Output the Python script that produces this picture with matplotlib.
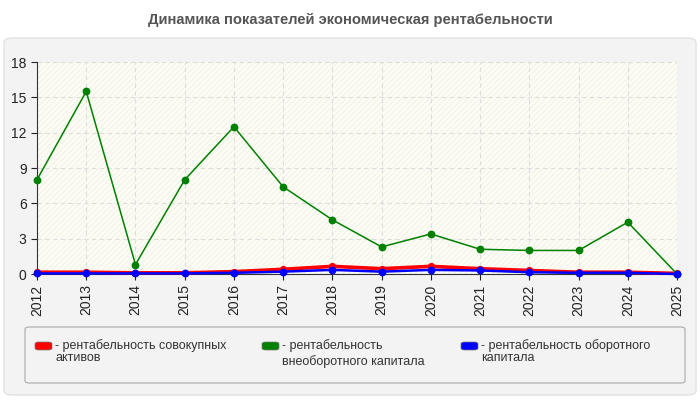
import matplotlib.pyplot as plt
from matplotlib.patches import FancyBboxPatch, Rectangle

plt.rcParams['font.family'] = ['Liberation Sans', 'DejaVu Sans']
plt.rcParams['hatch.linewidth'] = 0.6

years = ['2012', '2013', '2014', '2015', '2016', '2017', '2018',
         '2019', '2020', '2021', '2022', '2023', '2024', '2025']
total_assets = [0.15, 0.15, 0.1, 0.1, 0.2, 0.4, 0.65, 0.45, 0.65, 0.45, 0.3, 0.15, 0.15, 0.05]
noncurrent = [8.0, 15.5, 0.8, 8.0, 12.5, 7.4, 4.6, 2.3, 3.4, 2.1, 2.0, 2.0, 4.4, 0.0]
current = [0.05, 0.05, 0.05, 0.05, 0.1, 0.2, 0.35, 0.2, 0.35, 0.3, 0.15, 0.1, 0.1, 0.0]
labels = ['- рентабельность совокупных\nактивов',
          '- рентабельность\nвнеоборотного капитала',
          '- рентабельность оборотного\nкапитала']
colors = ['#ff0000', '#008000', '#0000ff']

fig = plt.figure(figsize=(7, 4), dpi=100)
fig.patch.set_facecolor('white')

# outer panel
fig.patches.append(FancyBboxPatch((4 / 700, 5 / 400), 692 / 700, 357 / 400,
                                  boxstyle='round,pad=0,rounding_size=0.012',
                                  transform=fig.transFigure, facecolor='#f3f3f3',
                                  edgecolor='#e2e2e2', linewidth=1, zorder=-2))
fig.text(0.5, 1 - 20 / 400, 'Динамика показателей экономическая рентабельности',
         ha='center', va='center', fontsize=10.6, fontweight='bold', color='#555555')

ax = fig.add_axes([37 / 700, 126 / 400, 640 / 700, 212 / 400])
ax.set_zorder(2)
ax.set_facecolor('#fdfdf4')
ax.add_patch(Rectangle((0, 0), 1, 1, transform=ax.transAxes, facecolor='none',
                       edgecolor='#efefea', hatch='//////', linewidth=0, zorder=0))
x = list(range(len(years)))
ax.plot(x, total_assets, color=colors[0], lw=2.6, marker='o', ms=4.2, zorder=3, clip_on=False)
ax.plot(x, noncurrent, color=colors[1], lw=1.1, marker='o', ms=4.6, zorder=4, clip_on=False)
ax.plot(x, current, color=colors[2], lw=1.8, marker='o', ms=4.6, zorder=5, clip_on=False)

ax.set_xlim(0, len(years) - 1)
ax.set_ylim(0, 18)
ax.set_yticks(range(0, 19, 3))
ax.set_xticks(x)
ax.set_xticklabels(years, rotation=90)
ax.tick_params(labelsize=10, colors='#222222', length=4)
ax.grid(True, color='#dddddd', linestyle=(0, (4, 3)), lw=0.8)
for side in ['top', 'right']:
    ax.spines[side].set_visible(False)
for side in ['left', 'bottom']:
    ax.spines[side].set_color('#333333')
ax.set_axisbelow(True)

# legend box
fig.patches.append(FancyBboxPatch((25 / 700, 17 / 400), 660 / 700, 56 / 400,
                                  boxstyle='round,pad=0,rounding_size=0.006',
                                  transform=fig.transFigure, facecolor='#f3f3f3',
                                  edgecolor='#aaaaaa', linewidth=0.8, zorder=1))
xs = [35, 262, 461]
for i, (xi, lab, c) in enumerate(zip(xs, labels, colors)):
    fig.patches.append(FancyBboxPatch((xi / 700, 1 - 350 / 400), 17 / 700, 8 / 400,
                                      boxstyle='round,pad=0,rounding_size=0.005',
                                      transform=fig.transFigure, facecolor=c,
                                      edgecolor='#777777', linewidth=0.5, zorder=2))
    fig.text((xi + 20) / 700, 1 - 339 / 400, lab, ha='left', va='top',
             fontsize=9, color='#333333', linespacing=1.35 if i == 1 else 1.0, zorder=3)

fig.savefig('out.png', dpi=100)
